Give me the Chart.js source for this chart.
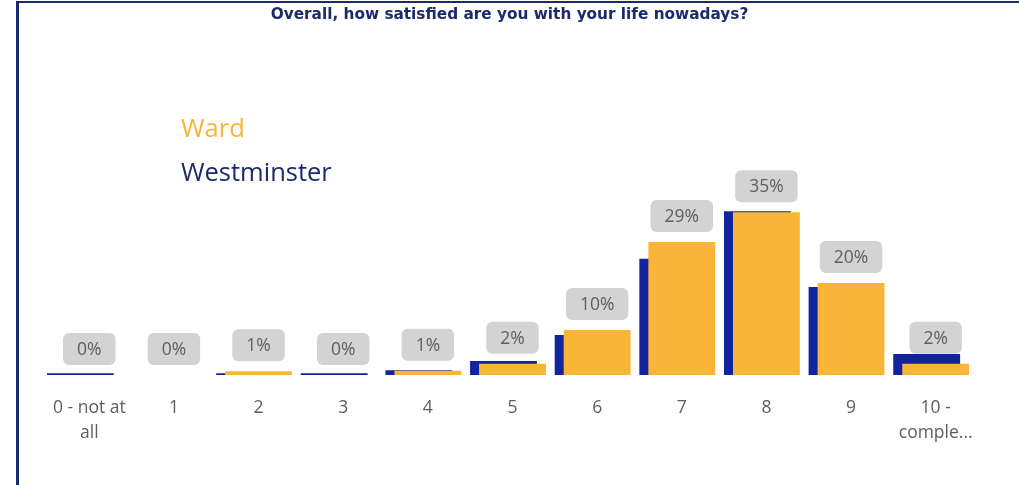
<!DOCTYPE html>
<html>
<head>
<meta charset="utf-8">
<script src="https://cdn.jsdelivr.net/npm/chart.js@4"></script>
<style>
  html, body { margin: 0; padding: 0; background: #fff; overflow: hidden; }
  #frame {
    position: absolute; left: 16px; top: 1px; width: 1100px; height: 600px;
    border-left: 3px solid #1b2a6b; border-top: 2px solid #1b2a6b;
  }
  #wrap { position: absolute; left: 0; top: 0; width: 1019px; height: 485px; }
</style>
</head>
<body>
<div id="frame"></div>
<div id="wrap"><canvas id="lifeChart"></canvas></div>
<script>
// Life satisfaction survey: Ward vs Westminster

const TITLE = "Overall, how satisfied are you with your life nowadays?";
const CATEGORIES = [
  ["0 - not at", "all"], "1", "2", "3", "4", "5", "6", "7", "8", "9", ["10 -", "comple..."],
];
const SERIES_NAMES = ["Ward", "Westminster"];
const WARD        = [0, 0, 0.8, 0, 0.9, 2.4, 9.7, 28.6, 35.0, 19.8, 2.4];
const WESTMINSTER = [0.4, 0, 0.4, 0.4, 1.0, 3.0, 8.6, 25.0, 35.2, 18.9, 4.5];

const COLORS = {
  ward:  "#f9b537",
  west:  "#12239e",
  title: "#1b2a6b",
  tick:  "#605e5c",
  box:   "#d3d3d3",
};
const FONT = "'Open Sans', 'Noto Sans', sans-serif";

// ── Westminster bars sit a little to the left, behind Ward ──────────────────
const offsetBars = {
  id: "offsetBars",
  afterDatasetsUpdate(chart) {
    chart.getDatasetMeta(1).data.forEach(el => { el.x -= 9; });
  },
};

// ── Grey value boxes above the Ward bars ────────────────────────────────────
const valueBoxes = {
  id: "valueBoxes",
  afterDatasetsDraw(chart) {
    const ctx = chart.ctx;
    ctx.save();
    ctx.font = `17.5px ${FONT}`;
    ctx.textAlign = "center";
    ctx.textBaseline = "middle";
    chart.getDatasetMeta(0).data.forEach((el, i) => {
      const txt = Math.round(WARD[i]) + "%";
      const w = ctx.measureText(txt).width + 28;
      const h = 32;
      const bottom = el.y - 10;
      ctx.fillStyle = COLORS.box;
      ctx.beginPath();
      ctx.roundRect(el.x - w / 2, bottom - h, w, h, 6);
      ctx.fill();
      ctx.fillStyle = COLORS.tick;
      ctx.fillText(txt, el.x, bottom - h / 2 + 1);
    });
    ctx.restore();
  },
};

// ── Title and text-only legend ──────────────────────────────────────────────
const headerText = {
  id: "headerText",
  afterDraw(chart) {
    const ctx = chart.ctx;
    ctx.save();
    ctx.textBaseline = "middle";
    ctx.textAlign = "center";
    ctx.font = "bold 15.3px 'DejaVu Sans', sans-serif";
    ctx.fillStyle = COLORS.title;
    ctx.fillText(TITLE, chart.width / 2, 15);

    ctx.textAlign = "left";
    ctx.font = `25.5px ${FONT}`;
    ctx.fillStyle = COLORS.ward;
    ctx.fillText(chart.data.datasets[0].label, 181, 130);
    ctx.fillStyle = COLORS.title;
    ctx.fillText(chart.data.datasets[1].label, 181, 174);
    ctx.restore();
  },
};

new Chart(document.getElementById("lifeChart"), {
  type: "bar",
  data: {
    labels: CATEGORIES,
    datasets: [
      {
        label: SERIES_NAMES[0],
        data: WARD,
        backgroundColor: COLORS.ward,
        barPercentage: 0.79,
        categoryPercentage: 1,
        grouped: false,
      },
      {
        label: SERIES_NAMES[1],
        data: WESTMINSTER,
        backgroundColor: COLORS.west,
        barPercentage: 0.79,
        categoryPercentage: 1,
        grouped: false,
      },
    ],
  },
  plugins: [offsetBars, valueBoxes, headerText],
  options: {
    responsive: true,
    maintainAspectRatio: false,
    animation: false,
    layout: { padding: { left: 47, right: 41, top: 189, bottom: 0 } },
    plugins: {
      legend:  { display: false },
      tooltip: { enabled: false },
    },
    scales: {
      x: {
        grid:   { display: false, drawTicks: false },
        border: { display: false },
        ticks: {
          color: COLORS.tick,
          font: { family: FONT, size: 17.5, lineHeight: 1.45 },
          padding: 20,
          maxRotation: 0,
          autoSkip: false,
        },
        afterFit: s => { s.height = 110; },
      },
      y: {
        display: false,
        min: 0,
        max: 40,
      },
    },
  },
});
</script>
</body>
</html>
